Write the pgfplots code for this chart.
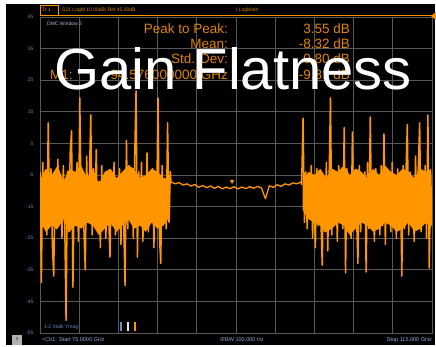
\documentclass[border=0pt]{standalone}
\usepackage{fontspec}
\setmainfont{Liberation Sans}
\usepackage{pgfplots}
\pgfplotsset{compat=1.18}
\definecolor{trc}{RGB}{255,150,0}
\definecolor{gridc}{RGB}{88,88,88}
\definecolor{lblb}{RGB}{100,140,200}
\begin{document}
\begin{tikzpicture}
% screen background
\path[use as bounding box, fill=white] (0,0) rectangle (436pt,347pt);
\fill[black] (6pt,2pt) rectangle (435pt,343pt);
\begin{axis}[
  at={(40pt,14pt)}, anchor=south west,
  width=392pt, height=316pt, scale only axis,
  xmin=0, xmax=10, ymin=-55, ymax=45,
  xtick={0,1,...,10}, xticklabels={},
  ytick={-55,-45,...,45},
  grid=major, major grid style={gridc, line width=0.7pt},
  axis line style={gridc, line width=0.8pt},
  major tick length=0pt,
  /pgf/number format/assume math mode=true,
  yticklabel style={font=\fontsize{5}{6}\selectfont, text=lblb, xshift=-3pt},
]
% dense core of the noise (upper edge, then lower edge back)
\addplot[fill=trc, draw=none] coordinates {
(0.02,-6)(0.15,-3)(0.3,-5)(0.45,-2)(0.6,-7)(0.75,-3)(0.9,-4)(1.05,-2)(1.2,-6)(1.35,-3)(1.5,-8)(1.65,-4)
(1.8,-3)(1.95,-6)(2.1,-4)(2.25,-2)(2.4,-3)(2.55,-6)(2.7,-5)(2.85,-3)(3.0,-4)(3.15,-6)(3.32,-7)
(3.32,-18)(3.15,-21)(3.0,-22)(2.85,-20)(2.7,-23)(2.55,-21)(2.4,-22)(2.25,-19)(2.1,-21)(1.95,-23)(1.8,-20)
(1.65,-22)(1.5,-24)(1.35,-21)(1.2,-20)(1.05,-22)(0.9,-21)(0.75,-23)(0.6,-19)(0.45,-22)(0.3,-21)(0.15,-23)(0.02,-20)
};
\addplot[fill=trc, draw=none] coordinates {
(6.7,-7)(6.85,-4)(7.0,-5)(7.15,-3)(7.3,-6)(7.45,-3)(7.6,-4)(7.75,-2)(7.9,-5)(8.05,-3)(8.2,-4)(8.35,-6)
(8.5,-3)(8.65,-5)(8.8,-2)(8.95,-4)(9.1,-5)(9.25,-3)(9.4,-4)(9.55,-6)(9.7,-3)(9.85,-4)(9.98,-3)
(9.98,-22)(9.85,-20)(9.7,-22)(9.55,-23)(9.4,-20)(9.25,-22)(9.1,-23)(8.95,-21)(8.8,-20)(8.65,-22)(8.5,-23)
(8.35,-21)(8.2,-20)(8.05,-22)(7.9,-24)(7.75,-21)(7.6,-20)(7.45,-22)(7.3,-23)(7.15,-21)(7.0,-20)(6.85,-19)(6.7,-16)
};
% left stopband noise
\addplot[trc, line width=1.5pt, line join=round, mark=none] coordinates {
(0,-4)(0.035,-39)(0.07,-1)(0.105,-20)(0.14,-6)(0.175,-24)(0.21,11.5)(0.245,-18)(0.28,-3)(0.315,-27)
(0.35,-37)(0.385,-5)(0.42,-22)(0.455,0)(0.49,-17)(0.525,-7)(0.56,-25)(0.595,-2)(0.63,-19)(0.665,-51)
(0.7,-4)(0.735,-23)(0.77,2)(0.805,9)(0.84,-40.5)(0.875,-8)(0.91,-21)(0.945,-1)(0.98,-26)(1.015,19.4)
(1.05,-16)(1.085,-5)(1.12,-22)(1.155,-35)(1.19,1)(1.225,-20)(1.26,-6)(1.295,14)(1.33,-24)(1.365,-3)
(1.4,-18)(1.435,3)(1.47,-23)(1.505,-7)(1.54,-28)(1.575,-2)(1.61,-19)(1.645,-9)(1.68,-25)(1.715,-4)
(1.75,-17)(1.785,-31)(1.82,-6)(1.855,-21)(1.89,-1)(1.925,-24)(1.96,-8)(1.995,-19)(2.03,-3)(2.065,-27)
(2.1,-5)(2.135,-20)(2.17,-40)(2.205,6)(2.24,-22)(2.275,-2)(2.31,-18)(2.345,-6)(2.38,-25)(2.415,0)
(2.45,21.6)(2.485,-31)(2.52,-4)(2.555,-21)(2.59,-1)(2.625,-26)(2.66,-7)(2.695,-18)(2.73,2)(2.765,-23)
(2.8,-5)(2.835,-20)(2.87,-3)(2.905,-28)(2.94,-8)(2.975,-17)(3.01,19.4)(3.045,-24)(3.08,-33)(3.115,-2)
(3.15,-19)(3.185,-6)(3.22,-22)(3.255,11.5)(3.29,-20)(3.325,-4)(3.34,-7.2)
};
% passband
\addplot[trc, line width=1.3pt, line join=round, mark=none] coordinates {
(3.34,-7.2)(3.45,-7.8)(3.55,-7.4)(3.65,-8.2)(3.75,-7.8)(3.85,-8.5)(3.95,-8.0)(4.05,-8.9)(4.15,-8.3)
(4.25,-9.0)(4.35,-8.5)(4.45,-9.2)(4.55,-8.6)(4.65,-9.4)(4.75,-8.8)(4.85,-9.3)(4.95,-8.7)(5.05,-9.4)
(5.15,-8.8)(5.25,-9.3)(5.35,-8.7)(5.45,-9.2)(5.55,-8.6)(5.65,-9.1)(5.75,-12.5)(5.85,-8.4)(5.95,-8.9)
(6.05,-8.1)(6.15,-8.6)(6.25,-7.8)(6.35,-8.2)(6.45,-7.5)(6.55,-7.8)(6.66,-7.2)
};
% right stopband noise
\addplot[trc, line width=1.5pt, line join=round, mark=none] coordinates {
(6.66,-7.2)(6.675,-8)(6.71,13)(6.745,-20)(6.78,-4)(6.815,-22)(6.85,-6)(6.885,-18)(6.92,-2)(6.955,-25)(6.99,-7)
(7.025,-28)(7.06,-3)(7.095,-21)(7.13,-9)(7.165,-19)(7.2,-33.5)(7.235,-5)(7.27,-23)(7.305,-1)(7.34,-29)
(7.375,-6)(7.41,19.4)(7.445,-24)(7.48,-4)(7.515,-20)(7.55,-8)(7.585,-26)(7.62,-2)(7.655,-17)(7.69,-6)
(7.725,-22)(7.76,10)(7.795,-36)(7.83,-3)(7.865,-19)(7.9,-7)(7.935,-25)(7.97,8.6)(8.005,-21)(8.04,-5)
(8.075,-18)(8.11,-33)(8.145,-2)(8.18,-23)(8.215,-8)(8.25,-20)(8.285,-4)(8.32,-35.7)(8.355,-1)(8.39,-22)
(8.425,13.4)(8.46,-19)(8.495,-6)(8.53,-26)(8.565,-3)(8.6,-17)(8.635,-9)(8.67,-24)(8.705,-2)(8.74,-21)
(8.775,8)(8.81,-27)(8.845,-5)(8.88,-18)(8.915,-7)(8.95,-23)(8.985,-1)(9.02,-20)(9.055,-6)(9.09,-25)
(9.125,-3)(9.16,-19)(9.195,-8)(9.23,-37)(9.265,-2)(9.3,-22)(9.335,-5)(9.37,11)(9.405,-24)(9.44,-4)
(9.475,-18)(9.51,-7)(9.545,-26)(9.58,1)(9.615,-20)(9.65,-3)(9.685,11.5)(9.72,-23)(9.755,-6)(9.79,-19)
(9.825,-2)(9.86,-25)(9.895,14)(9.93,-34.5)(9.965,-4)(10,-21)
};
% marker 1
\addplot[only marks, mark=triangle*, mark size=2.2pt, mark options={rotate=180, fill=trc, draw=trc}]
  coordinates {(4.9,-7.0)};
\end{axis}
% reference line and its arrow
\draw[trc, line width=1pt] (40pt,331pt) -- (433pt,331pt);
\fill[trc] (431pt,331pt) -- (436pt,335pt) -- (436pt,327pt) -- cycle;
% header strip
\draw[trc, line width=0.6pt] (40pt,331pt) -- (40pt,342pt) -- (58pt,342pt) -- (58pt,331pt);
\node[anchor=west, text=trc, font=\fontsize{5}{6}\selectfont, inner sep=0pt] at (42pt,337pt) {Tr 1};
\node[anchor=west, text=trc!85!black, font=\fontsize{5}{6}\selectfont, inner sep=0pt] at (62pt,337pt) {S21 LogM 10.00dB/ Ref 45.00dB};
\node[anchor=west, text=trc!85!black, font=\fontsize{5}{6}\selectfont, inner sep=0pt] at (236pt,337pt) {| LogMath};
\node[anchor=west, text=lblb!60!white, font=\fontsize{5}{6}\selectfont, inner sep=0pt] at (47pt,323pt) {DMC Window 2};
% statistics readout
\begin{scope}[every node/.style={text=trc!88!black, font=\fontsize{13.5}{15}\selectfont, inner sep=0pt}]
\node[anchor=base east] at (228pt,313pt) {Peak to Peak:};
\node[anchor=base east] at (350pt,313pt) {3.55 dB};
\node[anchor=base east] at (228pt,298pt) {Mean:};
\node[anchor=base east] at (350pt,298pt) {-8.32 dB};
\node[anchor=base east] at (228pt,283pt) {Std. Dev:};
\node[anchor=base east] at (350pt,283pt) {0.80 dB};
\node[anchor=base west] at (50pt,267pt) {M1:};
\node[anchor=base east] at (228pt,267pt) {94.576000000 GHz};
\node[anchor=base east] at (350pt,267pt) {-9.81 dB};
\end{scope}
% footer
\node[anchor=west, text=lblb, font=\fontsize{5}{6}\selectfont, inner sep=0pt] at (44pt,20pt) {1:2 Xtalk Ymag};
\fill[lblb] (120pt,16pt) rectangle (122pt,25pt);
\fill[white!80!gray] (127pt,16pt) rectangle (129pt,25pt);
\fill[trc] (134pt,16pt) rectangle (136pt,25pt);
\fill[gray!60] (12pt,2pt) rectangle (22pt,12pt);
\node[text=black, font=\fontsize{5}{6}\selectfont, inner sep=0pt] at (17pt,7pt) {?};
\node[anchor=west, text=lblb!70!white, font=\fontsize{5.5}{6}\selectfont, inner sep=0pt] at (42pt,7pt) {<Ch1: Start 75.0000 GHz};
\node[anchor=center, text=lblb!70!white, font=\fontsize{5.5}{6}\selectfont, inner sep=0pt] at (242pt,7pt) {IFBW 100.000 Hz};
\node[anchor=east, text=lblb!70!white, font=\fontsize{5.5}{6}\selectfont, inner sep=0pt] at (432pt,7pt) {Stop 115.000 GHz};
% title overlay
\node[anchor=base, text=white, font=\fontsize{58}{60}\selectfont, inner sep=0pt] at (233pt,257pt) {Gain Flatness};
\end{tikzpicture}
\end{document}
